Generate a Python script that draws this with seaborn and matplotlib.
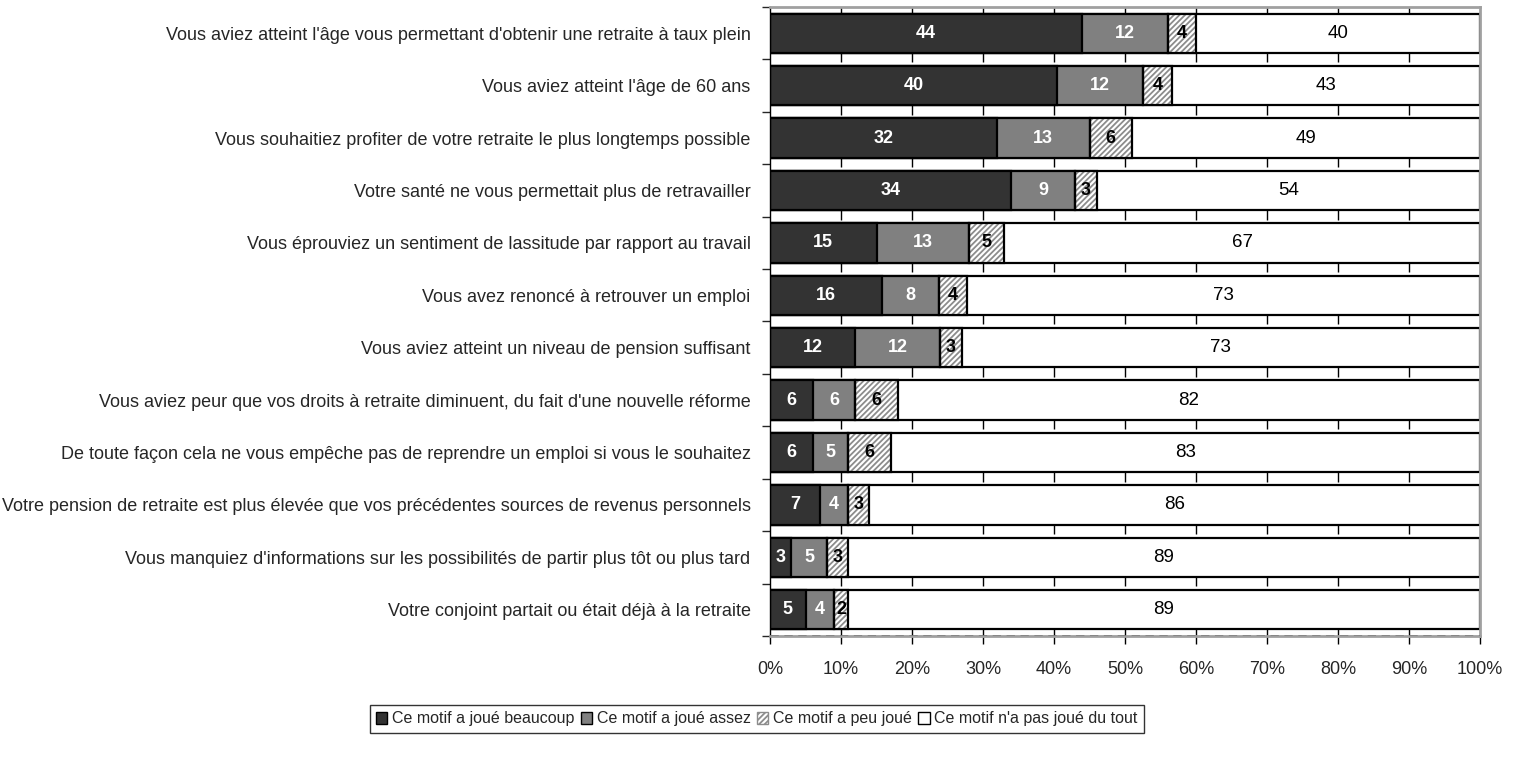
import numpy as np
import pandas as pd
import matplotlib
matplotlib.use("Agg")
import matplotlib.pyplot as plt
import seaborn as sns
from matplotlib.patches import Patch
from matplotlib import font_manager

# data (percent of respondents)
categories = [
    "Vous aviez atteint l'âge vous permettant d'obtenir une retraite à taux plein",
    "Vous aviez atteint l'âge de 60 ans",
    "Vous souhaitiez profiter de votre retraite le plus longtemps possible",
    "Votre santé ne vous permettait plus de retravailler",
    "Vous éprouviez un sentiment de lassitude par rapport au travail",
    "Vous avez renoncé à retrouver un emploi",
    "Vous aviez atteint un niveau de pension suffisant",
    "Vous aviez peur que vos droits à retraite diminuent, du fait d'une nouvelle réforme",
    "De toute façon cela ne vous empêche pas de reprendre un emploi si vous le souhaitez",
    "Votre pension de retraite est plus élevée que vos précédentes sources de revenus personnels",
    "Vous manquiez d'informations sur les possibilités de partir plus tôt ou plus tard",
    "Votre conjoint partait ou était déjà à la retraite",
]
beaucoup = [44, 40, 32, 34, 15, 16, 12, 6, 6, 7, 3, 5]
assez = [12, 12, 13, 9, 13, 8, 12, 6, 5, 4, 5, 4]
peu = [4, 4, 6, 3, 5, 4, 3, 6, 6, 3, 3, 2]
pas_du_tout = [40, 43, 49, 54, 67, 73, 73, 82, 83, 86, 89, 89]

series_names = [
    "Ce motif a joué beaucoup",
    "Ce motif a joué assez",
    "Ce motif a peu joué",
    "Ce motif n'a pas joué du tout",
]

sns.set_theme(style="white")
names = {f.name for f in font_manager.fontManager.ttflist}
narrow = "Liberation Sans Narrow" if "Liberation Sans Narrow" in names else "Liberation Sans"
plt.rcParams["font.family"] = [narrow, "DejaVu Sans"]
plt.rcParams["hatch.linewidth"] = 1.3
plt.rcParams["hatch.color"] = "#8c8c8c"

df = pd.DataFrame({"cat": categories, "b": beaucoup, "a": assez,
                   "p": peu, "n": pas_du_tout})
tot = df[["b", "a", "p", "n"]].sum(axis=1)
for c in ["b", "a", "p", "n"]:
    df[c + "_pct"] = df[c] / tot * 100
df["c1"] = df["b_pct"]
df["c2"] = df["c1"] + df["a_pct"]
df["c3"] = df["c2"] + df["p_pct"]
df["c4"] = df["c3"] + df["n_pct"]

fig = plt.figure(figsize=(15.14, 7.62), dpi=100)
ax = fig.add_axes([770 / 1514, 1 - 636 / 762, 710 / 1514, 629 / 762])

bar_h = 0.75
# draw cumulative bars, largest first so smaller ones sit on top
for col, color in zip(["c4", "c3", "c2", "c1"], ["white", "white", "#808080", "#333333"]):
    sns.barplot(data=df, x=col, y="cat", orient="h", color=color,
                edgecolor="black", linewidth=1.6, width=bar_h, ax=ax,
                saturation=1)

# hatch the "peu joué" layer (second drawn container)
for patch in ax.containers[1]:
    patch.set_hatch("//////")
    patch.set_edgecolor("#8c8c8c")
    patch.set_linewidth(0)
# redraw outlines of hatched segments in black
for i, row in df.iterrows():
    ax.add_patch(plt.Rectangle((row["c2"], i - bar_h / 2), row["p_pct"], bar_h,
                               fill=False, edgecolor="black", linewidth=1.6, zorder=3))

# labels
for i, row in df.iterrows():
    ax.text(row["c1"] / 2, i, str(row["b"]), ha="center", va="center",
            color="white", fontweight="bold", fontsize=13, zorder=5)
    ax.text((row["c1"] + row["c2"]) / 2, i, str(row["a"]), ha="center", va="center",
            color="white", fontweight="bold", fontsize=13, zorder=5)
    ax.text((row["c2"] + row["c3"]) / 2, i, str(row["p"]), ha="center", va="center",
            color="black", fontweight="bold", fontsize=13, zorder=5)
    ax.text((row["c3"] + row["c4"]) / 2, i, str(row["n"]), ha="center", va="center",
            color="black", fontsize=13.5, zorder=5)

# small tick marks under each bar, like the original
ticks = np.arange(0, 101, 10)
ax.vlines(ticks[1:-1], -0.5, -bar_h / 2, color="black", linewidth=1.0, zorder=1)
for i in range(len(df)):
    ax.vlines(ticks[1:-1], i + bar_h / 2, i + bar_h / 2 + 0.18, color="black",
              linewidth=1.0, zorder=1)

ax.set_xlim(0, 100)
ax.set_ylim(len(df) - 0.5, -0.5)
ax.set_xticks(ticks)
ax.set_xticklabels([f"{t}%" for t in ticks], fontsize=13)
ax.tick_params(axis="x", length=6, width=1, direction="out", pad=12, color="black",
               bottom=True)
ax.set_yticks(range(len(df)))
ax.set_yticklabels(categories, fontsize=13)
ax.tick_params(axis="y", length=0, pad=14)
ax.set_yticks(np.arange(-0.5, len(df), 1), minor=True)
ax.tick_params(axis="y", which="minor", length=6, width=1, direction="out", left=True)
ax.set_xlabel("")
ax.set_ylabel("")

for s in ["top", "right"]:
    ax.spines[s].set_color("#a0a0a0")
    ax.spines[s].set_linewidth(2)
ax.spines["left"].set_color("black")
ax.spines["left"].set_linewidth(1)
ax.spines["bottom"].set_color("#a0a0a0")
ax.spines["bottom"].set_linewidth(2)
ax.axhline(len(df) - 0.5, color="black", linewidth=1, linestyle=(0, (6, 4)), zorder=4)

handles = [Patch(facecolor="#333333", edgecolor="black"),
           Patch(facecolor="#808080", edgecolor="black"),
           Patch(facecolor="white", edgecolor="#8c8c8c", hatch="//////"),
           Patch(facecolor="white", edgecolor="black")]
leg = fig.legend(handles, series_names, loc="center", bbox_to_anchor=(757 / 1514, 1 - 719 / 762),
                 ncol=4, frameon=True, fancybox=False, fontsize=11.5,
                 handlelength=0.7, handleheight=0.7, handletextpad=0.3,
                 columnspacing=0.4, borderpad=0.4)
leg.get_frame().set_edgecolor("black")
leg.get_frame().set_linewidth(1)

fig.savefig("out.png", dpi=100)
